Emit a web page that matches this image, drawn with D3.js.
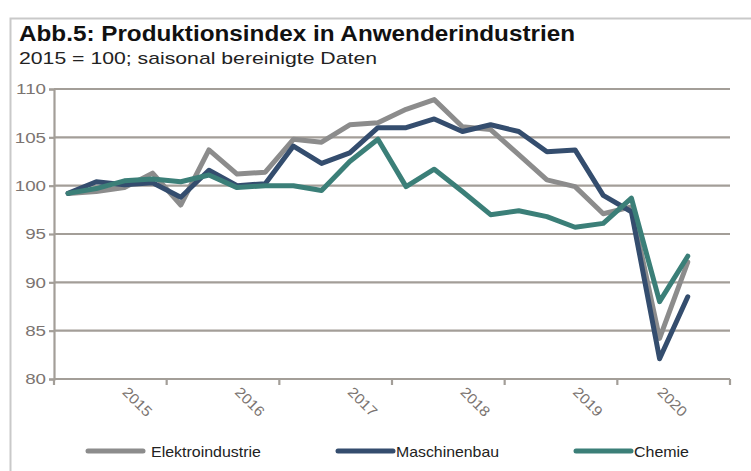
<!DOCTYPE html>
<html><head><meta charset="utf-8">
<script src="https://cdn.jsdelivr.net/npm/d3@7"></script>
<style>body{margin:0;background:#fff;}svg{display:block;font-family:"Liberation Sans",Arial,sans-serif;}</style>
</head><body>
<svg id="chart" width="751" height="471"></svg>
<script>
// Quarterly categories, 2015 Q1 .. 2020 Q4 (last one empty)
const quarters = ["2015Q1","2015Q2","2015Q3","2015Q4","2016Q1","2016Q2","2016Q3","2016Q4",
  "2017Q1","2017Q2","2017Q3","2017Q4","2018Q1","2018Q2","2018Q3","2018Q4",
  "2019Q1","2019Q2","2019Q3","2019Q4","2020Q1","2020Q2","2020Q3","2020Q4"];
const tickLabels = ["","","2015","","","","2016","","","","2017","","","","2018","","","","2019","","","2020","",""];
const elektro = [99.2,99.4,99.8,101.3,98.0,103.7,101.2,101.4,104.8,104.5,106.3,106.5,107.9,108.9,106.1,105.8,103.2,100.6,99.9,97.1,97.8,84.2,92.1];
const maschinen = [99.2,100.4,100.1,100.3,98.8,101.6,100.0,100.2,104.1,102.3,103.4,106.0,106.0,106.9,105.6,106.3,105.6,103.5,103.7,99.0,97.3,82.1,88.5];
const chemie = [99.2,99.7,100.5,100.7,100.4,101.1,99.8,100.0,100.0,99.5,102.5,104.8,99.9,101.7,99.4,97.0,97.4,96.8,95.7,96.1,98.7,88.0,92.7];
const yTicks = [80,85,90,95,100,105,110];
const seriesNames = ["Elektroindustrie","Maschinenbau","Chemie"];
const colors = ["#8c8c8c","#344d6e","#3b7f78"];

const svg = d3.select("#chart");
function stretch(sel, f){ sel.each(function(){ const w=this.getComputedTextLength();
  d3.select(this).attr("textLength", w*f).attr("lengthAdjust","spacingAndGlyphs"); }); }

// frame
svg.append("rect").attr("x",10.5).attr("y",18.5).attr("width",760).attr("height",470)
  .attr("fill","none").attr("stroke","#c9c9c9").attr("stroke-width",2);

svg.append("text").attr("x",19).attr("y",41).attr("font-size",21.5).attr("font-weight","bold")
  .attr("fill","#111").attr("textLength",556).attr("lengthAdjust","spacingAndGlyphs")
  .text("Abb.5: Produktionsindex in Anwenderindustrien");
svg.append("text").attr("x",19).attr("y",64).attr("font-size",17).attr("fill","#222")
  .attr("textLength",358).attr("lengthAdjust","spacingAndGlyphs")
  .text("2015 = 100; saisonal bereinigte Daten");

const L=54, R=730, T=89, B=379;
const x = d3.scaleLinear().domain([-0.5, quarters.length-0.5]).range([L,R]);
const y = d3.scaleLinear().domain([80,110]).range([B,T]);
const gridCol = "#a39e98", txtCol = "#7b7471";

// gridlines
svg.append("g").selectAll("line").data(yTicks.filter(v=>v>80)).join("line")
  .attr("x1",L).attr("x2",R).attr("y1",d=>y(d)).attr("y2",d=>y(d))
  .attr("stroke",gridCol).attr("stroke-width",2.2);

// y axis
const ya = svg.append("g").attr("transform",`translate(${L},0)`)
  .call(d3.axisLeft(y).tickValues(yTicks).tickSize(5).tickPadding(3));
ya.select(".domain").attr("stroke",gridCol).attr("stroke-width",2.2);
ya.selectAll(".tick line").attr("stroke",gridCol).attr("stroke-width",2.2);
ya.selectAll("text").attr("fill",txtCol).attr("font-size",15).attr("font-family","Liberation Sans, Arial, sans-serif");
stretch(ya.selectAll("text"), 1.25);

// x axis line + ticks every 4 categories
const xTickPos = d3.range(0, quarters.length+1, 4).map(i=>i-0.5);
svg.append("line").attr("x1",L).attr("x2",R).attr("y1",B).attr("y2",B).attr("stroke",gridCol).attr("stroke-width",2.2);
svg.append("g").selectAll("line").data(xTickPos).join("line")
  .attr("x1",d=>x(d)).attr("x2",d=>x(d)).attr("y1",B).attr("y2",B+6)
  .attr("stroke",gridCol).attr("stroke-width",2.2);

// rotated year labels
const yl = svg.append("g").selectAll("text").data(tickLabels.map((t,i)=>({t,i})).filter(d=>d.t)).join("text")
  .attr("transform",d=>`translate(${x(d.i)-3},${B+14}) rotate(45)`)
  .attr("font-size",14.5).attr("fill",txtCol).text(d=>d.t);
stretch(yl, 1.08);

// lines
const line = d3.line().x((d,i)=>x(i)).y(d=>y(d));
[elektro, maschinen, chemie].forEach((s,k)=>{
  svg.append("path").datum(s).attr("d",line).attr("fill","none")
    .attr("stroke",colors[k]).attr("stroke-width",5).attr("stroke-linejoin","round").attr("stroke-linecap","round");
});

// legend
const legX = [88, 338, 576];
const legW = [110, 103, 55];
const lg = svg.append("g").selectAll("g").data(seriesNames).join("g")
  .attr("transform",(d,i)=>`translate(${legX[i]},451)`);
lg.append("line").attr("x1",0).attr("x2",55).attr("y1",0).attr("y2",0)
  .attr("stroke",(d,i)=>colors[i]).attr("stroke-width",5).attr("stroke-linecap","round");
lg.append("text").attr("x",(d,i)=>i===0?63:58).attr("y",5.5).attr("font-size",15).attr("fill","#222")
  .attr("textLength",(d,i)=>legW[i]).attr("lengthAdjust","spacingAndGlyphs").text(d=>d);
</script>
</body></html>
